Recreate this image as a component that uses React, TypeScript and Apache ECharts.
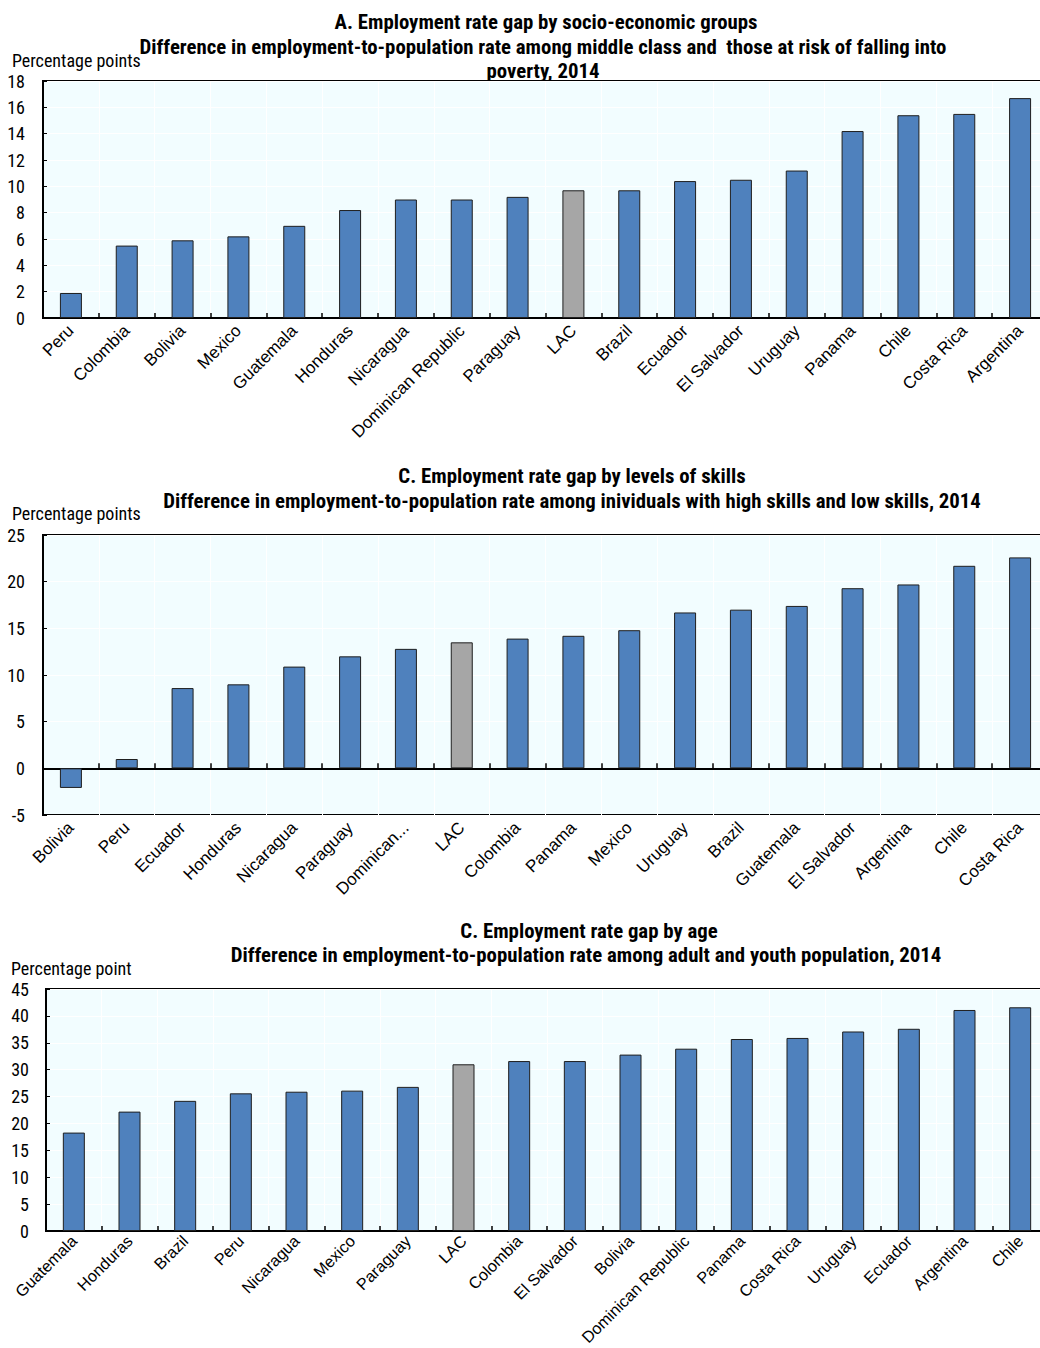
import React, { useEffect, useRef } from "react";
import * as echarts from "echarts";

const catsA = ["Peru", "Colombia", "Bolivia", "Mexico", "Guatemala", "Honduras", "Nicaragua", "Dominican Republic", "Paraguay", "LAC", "Brazil", "Ecuador", "El Salvador", "Uruguay", "Panama", "Chile", "Costa Rica", "Argentina"];
const valsA = [1.9, 5.5, 5.9, 6.2, 7.0, 8.2, 9.0, 9.0, 9.2, 9.7, 9.7, 10.4, 10.5, 11.2, 14.2, 15.4, 15.5, 16.7];

const catsB = ["Bolivia", "Peru", "Ecuador", "Honduras", "Nicaragua", "Paraguay", "Dominican Republic", "LAC", "Colombia", "Panama", "Mexico", "Uruguay", "Brazil", "Guatemala", "El Salvador", "Argentina", "Chile", "Costa Rica"];
const valsB = [-2.1, 1.0, 8.6, 9.0, 10.9, 12.0, 12.8, 13.5, 13.9, 14.2, 14.8, 16.7, 17.0, 17.4, 19.3, 19.7, 21.7, 22.6];

const catsC = ["Guatemala", "Honduras", "Brazil", "Peru", "Nicaragua", "Mexico", "Paraguay", "LAC", "Colombia", "El Salvador", "Bolivia", "Dominican Republic", "Panama", "Costa Rica", "Uruguay", "Ecuador", "Argentina", "Chile"];
const valsC = [18.3, 22.2, 24.2, 25.6, 25.9, 26.1, 26.8, 31.0, 31.6, 31.6, 32.8, 33.9, 35.7, 35.9, 37.1, 37.6, 41.1, 41.6];

const titlesA = ["A. Employment rate gap by socio-economic groups", "Difference in employment-to-population rate among middle class and  those at risk of falling into", "poverty, 2014"];
const titlesB = ["C. Employment rate gap by levels of skills", "Difference in employment-to-population rate among inividuals with high skills and low skills, 2014"];
const titlesC = ["C. Employment rate gap by age", "Difference in employment-to-population rate among adult and youth population, 2014"];
const unitA = "Percentage points";
const unitB = "Percentage points";
const unitC = "Percentage point";

const NARROW = "'Liberation Sans Narrow', 'Arial Narrow', 'Roboto Condensed', 'DejaVu Sans Condensed', sans-serif";
const LABEL_FONT = "'Liberation Sans', Arial, sans-serif";
const BLUE = "#4F81BD";
const GREY = "#A6A6A6";
const BG = "#F2FDFF";

function barData(cats: string[], vals: number[]) {
  return vals.map((v, i) => ({
    value: v,
    itemStyle: { color: cats[i] === "LAC" ? GREY : BLUE },
  }));
}

function xAxis(gridIndex: number, cats: string[], margin: number, truncate: boolean, fontSize: number) {
  return {
    type: "category",
    gridIndex,
    data: cats,
    axisLine: { show: true, onZero: true, lineStyle: { color: "#000", width: 2 } },
    axisTick: { show: true, inside: true, length: 5, lineStyle: { color: "#000", width: 1.5 } },
    splitLine: { show: true, lineStyle: { color: "#FFFFFF", width: 1 } },
    axisLabel: {
      interval: 0,
      rotate: 45,
      margin,
      fontFamily: LABEL_FONT,
      fontSize,
      color: "#000",
      formatter: (v: string) => (truncate && v.length > 14 ? v.slice(0, 9) + "..." : v),
    },
  };
}

function yAxis(gridIndex: number, min: number, max: number, interval: number, margin: number) {
  return {
    type: "value",
    gridIndex,
    min,
    max,
    interval,
    axisLine: { show: true, lineStyle: { color: "#000", width: 2 } },
    axisTick: { show: true, inside: true, length: 4, lineStyle: { color: "#000" } },
    splitLine: { show: true, lineStyle: { color: "#FFFFFF", width: 1 } },
    axisLabel: { margin, fontFamily: NARROW, fontSize: 18, color: "#000" },
  };
}

function textEl(text: string, x: number, y: number, size: number, bold: boolean, align: string) {
  return {
    type: "text",
    x,
    y,
    style: {
      text,
      fill: "#000",
      font: `${bold ? "bold " : ""}${size}px ${NARROW}`,
      align,
      verticalAlign: "middle",
    },
  };
}

export default function App() {
  const ref = useRef<HTMLDivElement>(null);
  useEffect(() => {
    document.body.style.margin = "0";
    if (!ref.current) return;
    const chart = echarts.init(ref.current, null, { renderer: "svg" });
    const gridCommon = {
      show: true,
      backgroundColor: BG,
      borderColor: "#000",
      borderWidth: 2,
      right: -8,
      containLabel: false,
      outerBoundsMode: "none",
    };
    const seriesCommon = {
      type: "bar",
      barWidth: 22,
      itemStyle: { borderColor: "#1F1F1F", borderWidth: 1 },
    };
    chart.setOption({
      animation: false,
      grid: [
        { ...gridCommon, left: 43, top: 81, height: 237 },
        { ...gridCommon, left: 43, top: 535, height: 280 },
        { ...gridCommon, left: 46, top: 989, height: 242 },
      ],
      xAxis: [
        xAxis(0, catsA, 10, false, 17),
        xAxis(1, catsB, 10, true, 17),
        xAxis(2, catsC, 7, false, 16.2),
      ],
      yAxis: [yAxis(0, 0, 18, 2, 18), yAxis(1, -5, 25, 5, 18), yAxis(2, 0, 45, 5, 17)],
      series: [
        { ...seriesCommon, xAxisIndex: 0, yAxisIndex: 0, data: barData(catsA, valsA) },
        { ...seriesCommon, xAxisIndex: 1, yAxisIndex: 1, data: barData(catsB, valsB) },
        { ...seriesCommon, xAxisIndex: 2, yAxisIndex: 2, data: barData(catsC, valsC) },
      ],
      graphic: [
        textEl(titlesA[0], 546, 22, 20.8, true, "center"),
        textEl(titlesA[1], 543, 47, 20.8, true, "center"),
        textEl(titlesA[2], 543, 71, 20.8, true, "center"),
        textEl(unitA, 12, 60, 18, false, "left"),
        textEl(titlesB[0], 572, 476, 20.8, true, "center"),
        textEl(titlesB[1], 572, 501, 20.8, true, "center"),
        textEl(unitB, 12, 513, 18, false, "left"),
        textEl(titlesC[0], 589, 931, 20.8, true, "center"),
        textEl(titlesC[1], 586, 955, 20.8, true, "center"),
        textEl(unitC, 11, 968, 18, false, "left"),
      ],
    });
    return () => chart.dispose();
  }, []);
  return <div ref={ref} style={{ width: 1040, height: 1348 }} />;
}
